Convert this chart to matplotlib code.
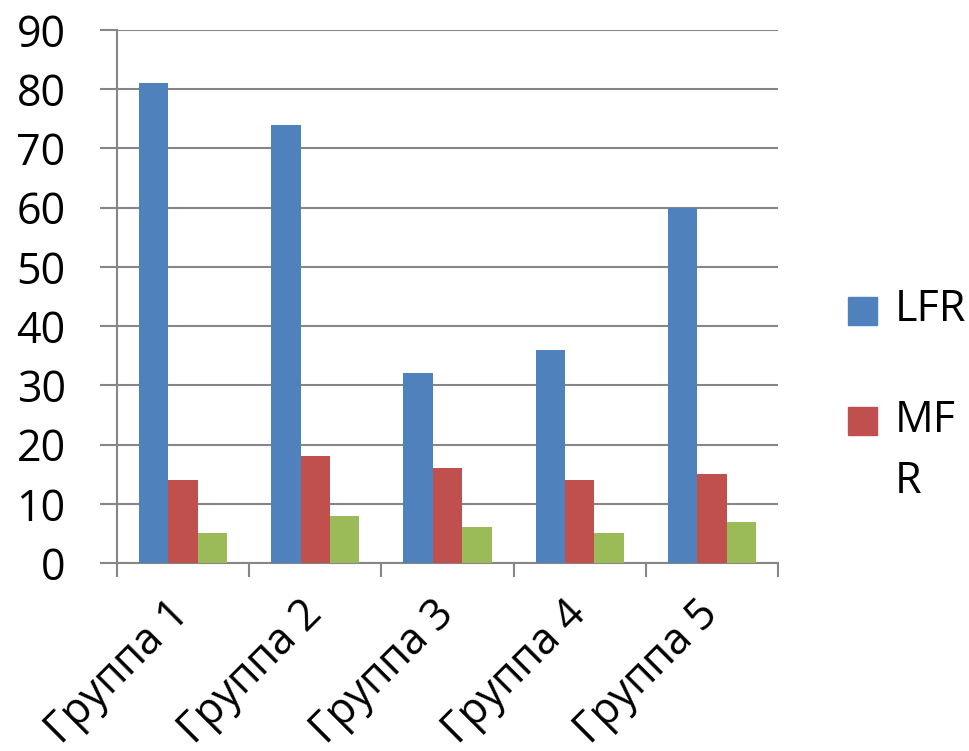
import matplotlib
matplotlib.use("Agg")
import matplotlib.pyplot as plt
from matplotlib.patches import Rectangle
import numpy as np

categories = ["Группа 1", "Группа 2", "Группа 3", "Группа 4", "Группа 5"]
series_names = ["LFR", "MFR", "Ряд 3"]
lfr = [81, 74, 32, 36, 60]
mfr = [14, 18, 16, 14, 15]
s3 = [5, 8, 6, 5, 7]
colors = ["#4F81BD", "#C0504D", "#9BBB59"]
yticks = [0, 10, 20, 30, 40, 50, 60, 70, 80, 90]

plt.rcParams['font.family'] = ['Open Sans', 'DejaVu Sans']

fig = plt.figure(figsize=(9.7, 7.51), dpi=100)
ax = fig.add_axes([117/970, 1-563/751, (778-117)/970, (563-30)/751])

x = np.arange(len(categories))
w = 1/4.5
for i, (vals, c) in enumerate(zip([lfr, mfr, s3], colors)):
    ax.bar(x + (i-1)*w, vals, width=w, color=c, zorder=3, linewidth=0)

grid_c = "#868686"
ax.set_xlim(-0.5, len(categories)-0.5)
ax.set_ylim(0, 90)
ax.set_yticks(yticks)
ax.yaxis.grid(True, color=grid_c, linewidth=1.5, zorder=0)
for s in ["top", "right"]:
    ax.spines[s].set_visible(False)
for s in ["left", "bottom"]:
    ax.spines[s].set_color(grid_c)
    ax.spines[s].set_linewidth(1.5)
ax.tick_params(axis='y', length=12, width=1.5, color=grid_c, pad=25, labelsize=31)

ax.set_xticks(x)
ax.set_xticklabels(categories, rotation=45, ha='right', rotation_mode='anchor', fontsize=31)
ax.tick_params(axis='x', which='major', length=0, pad=32)
ax.set_xticks(np.arange(-0.5, len(categories)), minor=True)
ax.tick_params(axis='x', which='minor', length=10, width=1.5, color=grid_c)
for lbl in ax.get_xticklabels():
    lbl.set_va('center')

# legend (only first two series visible, second label wrapped)
leg_labels = [series_names[0], series_names[1][:2] + "\n" + series_names[1][2:]]
leg_y = [311, 421]
for lab, c, yy in zip(leg_labels, colors[:2], leg_y):
    fig.patches.append(Rectangle((848/970, 1-(yy+14)/751), 29/970, 28/751,
                                 transform=fig.transFigure, color=c))
    fig.text(895/970, 1-(yy-23)/751, lab, fontsize=31, va='top', ha='left',
             linespacing=1.5)

fig.savefig("out.png", dpi=100)
